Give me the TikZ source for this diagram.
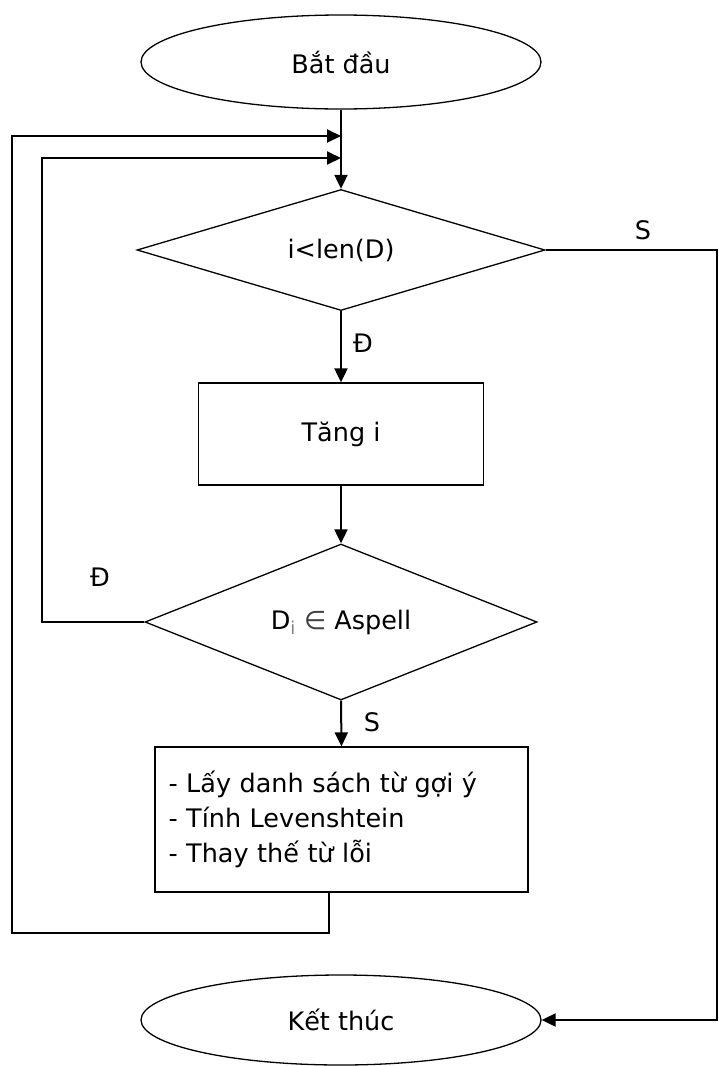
\documentclass[tikz,border=0pt]{standalone}
\usepackage{fontspec}
\setmainfont{DejaVu Sans}
\usetikzlibrary{shapes.geometric,arrows.meta}
\begin{document}
\begin{tikzpicture}[x=1pt,y=-1pt,
  every node/.style={font=\fontsize{25.5}{35}\selectfont},
  term/.style={ellipse,draw,line width=1.3pt,minimum width=400pt,minimum height=94pt,inner sep=0pt},
  cond/.style={diamond,draw,line width=1.3pt,inner sep=0pt},
  proc/.style={rectangle,draw,line width=1.3pt,inner sep=0pt},
  conn/.style={line width=2pt},
  arr/.style={conn,-{Triangle[length=14pt,width=13pt]}},
  lbl/.style={inner sep=0pt}
]
\useasboundingbox (0,0) rectangle (719,1066);
\node[term] (start) at (341,62) {Bắt đầu};
\node[cond,aspect=3.37,minimum width=408pt,minimum height=121pt] (d1) at (341,250) {i<len(D)};
\node[proc,minimum width=285pt,minimum height=102pt] (b1) at (341,434) {Tăng i};
\node[cond,aspect=2.51,minimum width=392pt,minimum height=156pt] (d2) at (341,622) {D\textsubscript{\textcolor{gray}{i}} {\color{darkgray}∈} Aspell};
\node[proc,minimum width=373pt,minimum height=145pt,align=left,text width=346pt] (b2) at (341.5,819.5) {- Lấy danh sách từ gợi ý\\- Tính Levenshtein\\- Thay thế từ lỗi};
\node[term,minimum height=90pt] (end) at (341,1020) {Kết thúc};

\coordinate (m1) at (341,136);
\coordinate (m2) at (341,158);
\coordinate (o1) at (329,933);
\coordinate (o2) at (12,933);
\coordinate (o3) at (12,136);
\coordinate (i1) at (42,622);
\coordinate (i2) at (42,158);
\coordinate (r1) at (717,250);
\coordinate (r2) at (717,1020);

\draw[arr] (start.south) -- (d1.north);
\draw[arr] (d1.south) -- (b1.north);
\draw[arr] (b1.south) -- (d2.north);
\draw[arr] (d2.south) -- (b2.north);
\draw[arr] (b2.south -| o1) -- (o1) -- (o2) -- (o3) -- (m1);
\draw[arr] (d2.west) -- (i1) -- (i2) -- (m2);
\draw[arr] (d1.east) -- (r1) -- (r2) -- (end.east);

\node[lbl] (s1) at (643,230) {S};
\node[lbl] (t1) at (363,343) {Đ};
\node[lbl] (t2) at (100,577) {Đ};
\node[lbl] (s2) at (372,722) {S};
\end{tikzpicture}
\end{document}
